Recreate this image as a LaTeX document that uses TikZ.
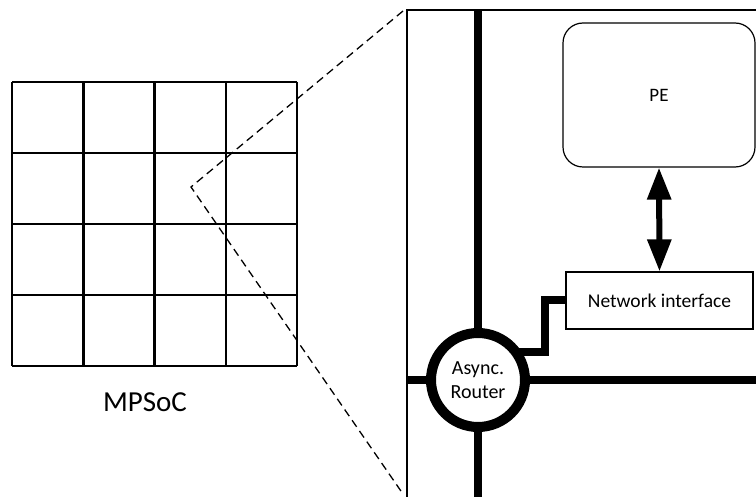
\documentclass[tikz,border=0pt]{standalone}
\usepackage{fontspec}
\setmainfont{Carlito}
\usetikzlibrary{arrows.meta,backgrounds}

\tikzset{
  gridline/.style={line width=2.5pt},
  bus/.style={line width=8pt},
  zoomline/.style={line width=1.3pt, dash pattern=on 8pt off 5pt},
  frameline/.style={line width=2pt},
  pebox/.style={draw, line width=1.2pt, rounded corners=20pt,
    minimum width=192pt, minimum height=144pt, font=\fontsize{19}{23}\selectfont},
  nibox/.style={draw, line width=1.2pt, minimum width=187pt,
    minimum height=57pt, font=\fontsize{19.5}{23}\selectfont},
  routernode/.style={circle, draw, fill=white, line width=10pt,
    minimum size=94pt, inner sep=0pt, align=center,
    font=\fontsize{20}{24}\selectfont},
  biarrow/.style={line width=6pt, {Triangle[length=32pt,width=23pt]}-{Triangle[length=32pt,width=23pt]}}
}

\begin{document}
\begin{tikzpicture}[x=1pt,y=-1pt]
  \useasboundingbox (0,0) rectangle (756,497);

  % MPSoC tile grid (4 x 4)
  \foreach \gx in {12,83.25,154.5,225.75,297}
    \draw[gridline] (\gx,82) -- (\gx,366);
  \foreach \gy in {82,153,224,295,366}
    \draw[gridline] (12,\gy) -- (297,\gy);
  \node[font=\fontsize{29}{34}\selectfont] (mpsoc) at (145,402) {MPSoC};

  % zoom lines from one tile to the detail frame
  \coordinate (tile) at (191,187);
  \coordinate (zoomtop) at (403,11);
  \coordinate (zoombottom) at (403,494);
  \draw[zoomline] (zoomtop) -- (tile) -- (zoombottom);

  % detail frame (open to the right and bottom)
  \coordinate (frametl) at (407,10);
  \draw[frameline] (407,497) -- (frametl) -- (756,10);

  % tile contents
  \node[pebox] (pe) at (659,95) {PE};
  \node[nibox] (ni) at (659.5,300.5) {Network interface};
  \node[routernode] (router) at (478,380) {Async.\\Router};

  \coordinate (busn) at (478,10);
  \coordinate (buss) at (478,497);
  \coordinate (busw) at (407,380);
  \coordinate (buse) at (756,380);
  \coordinate (nibend) at (545,352);

  \begin{scope}[on background layer]
    \draw[bus] (busn) -- (router);
    \draw[bus] (router) -- (buss);
    \draw[bus] (busw) -- (router);
    \draw[bus] (router) -- (buse);
    \draw[bus] (ni.west) -| (nibend) -- (router.center |- nibend);
  \end{scope}

  \draw[biarrow] (pe.south) -- (ni.north);
\end{tikzpicture}
\end{document}
